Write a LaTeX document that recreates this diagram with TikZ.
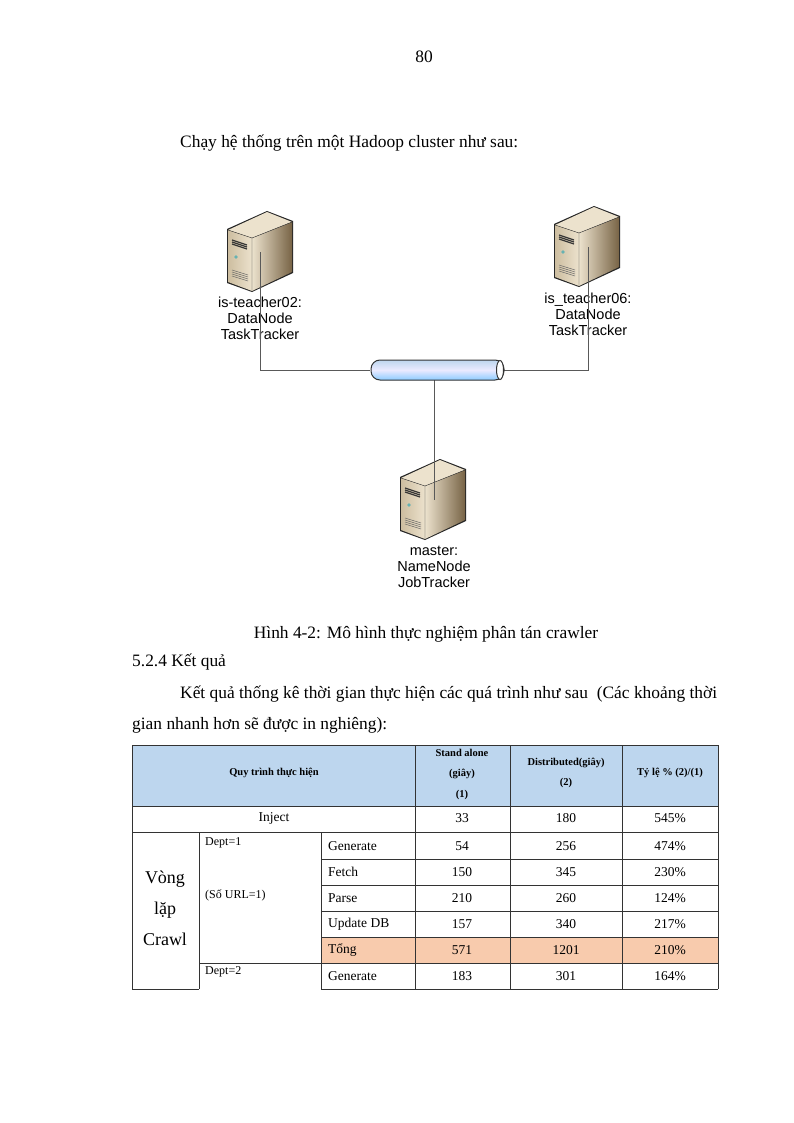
\documentclass[tikz,border=0pt]{standalone}
\usepackage{fontspec}
\setmainfont{Liberation Serif}
\newfontfamily\arialf{Liberation Sans}
\definecolor{hdblue}{RGB}{189,214,238}
\definecolor{orng}{RGB}{248,203,173}
\definecolor{beigeL}{RGB}{236,226,205}
\definecolor{beigeM}{RGB}{205,190,160}
\definecolor{beigeD}{RGB}{120,100,70}
\begin{document}
\begin{tikzpicture}[x=1pt,y=-1pt,
  body/.style={font=\fontsize{17.4}{20}\selectfont,inner sep=0pt},
  lab/.style={font=\arialf\fontsize{14.5}{16}\selectfont,align=center,inner sep=0pt},
  cell/.style={font=\fontsize{13.5}{15}\selectfont,inner sep=0pt},
  hd/.style={font=\bfseries\fontsize{10.5}{12}\selectfont,inner sep=0pt},
  small/.style={font=\fontsize{12}{13}\selectfont,inner sep=0pt,anchor=west},
  tl/.style={line width=0.6pt,black!80},
  link/.style={line width=0.8pt,black!65},
  server/.pic={
    \fill[black!85] (-1,17)--(39,-1)--(65,9)--(65,61)--(24,80)--(-1,71)--cycle;
    \fill[beigeL] (0,18)--(39,0)--(64,10)--(24,26)--cycle;
    \shade[left color=beigeM,right color=beigeL] (0,18)--(24,26)--(24,79)--(0,70)--cycle;
    \shade[left color=beigeL,right color=beigeD] (24,26)--(64,10)--(64,60)--(24,79)--cycle;
    \draw[black!80,line width=0.4pt] (0,18)--(24,26)--(64,10) (24,26)--(24,79);
    \foreach \i in {0,2,4}{\draw[black!80,line width=1.2pt] (4,28+\i)--(19,33+\i);}
    \fill[teal!60] (8,45) circle (1.8);
    \foreach \i in {0,2,4,6}{\draw[black!60,line width=0.5pt] (4,58+\i)--(20,63+\i);}
  }]
\useasboundingbox (0,0) rectangle (794,1123);
\fill[white] (0,0) rectangle (794,1123);
\node[body] (pg) at (424,57) {80};
\node[body,anchor=west] (intro) at (180,143) {Chạy hệ thống trên một Hadoop cluster như sau:};
% network
\pic at (228,212) {server};
\pic at (555,207) {server};
\pic at (401,460) {server};
\coordinate (s1) at (260,252);
\coordinate (s2) at (588,247);
\coordinate (s3) at (434,500);
\coordinate (b3) at (434,380);
\node[lab] (l1) at (260,318) {is-teacher02:\\DataNode\\TaskTracker};
\node[lab] (l2) at (588,314) {is\_teacher06:\\DataNode\\TaskTracker};
\node[lab] (l3) at (434,567) {master:\\NameNode\\JobTracker};
\node[inner sep=0pt,minimum width=134pt,minimum height=20pt] (bus) at (437,370) {};
\draw[link] (s1)--(260,370)--(bus.west);
\draw[link] (s2)--(588,370)--(bus.east);
\draw[link] (b3)--(s3);
\shade[top color=hdblue,bottom color=blue!45!cyan!45!white,middle color=blue!8!white,draw=black!80,line width=1pt,rounded corners=9pt] (371,360) rectangle (504,380);
\draw[black!80,line width=1pt,fill=white] (500,370) ellipse (3.5 and 9.5);
\node[body] (cap) at (426,634) {Hình 4-2: Mô hình thực nghiệm phân tán crawler};
\node[body,anchor=west] (sec) at (132,662) {5.2.4 Kết quả};
\node[body,anchor=west] (p1) at (180,694) {Kết quả thống kê thời gian thực hiện các quá trình như sau \ (Các khoảng thời};
\node[body,anchor=west] (p2) at (132,725) {gian nhanh hơn sẽ được in nghiêng):};
% table
\fill[hdblue] (132,745) rectangle (718,806);
\fill[orng] (321,937) rectangle (718,963);
\draw[tl] (132,745)--(718,745) (132,806)--(718,806) (132,832)--(718,832);
\foreach \y in {859,885,911,937,963}{\draw[tl] (321,\y)--(718,\y);}
\draw[tl] (199,963)--(321,963);
\draw[tl] (132,989)--(199,989) (321,989)--(718,989);
\draw[tl] (132,745)--(132,989) (718,745)--(718,989);
\foreach \x in {415,510,622}{\draw[tl] (\x,745)--(\x,989);}
\draw[tl] (199,832)--(199,989) (321,832)--(321,989);
\node[hd] (h1) at (274,773) {Quy trình thực hiện};
\node[hd] (h2a) at (462,753) {Stand alone};
\node[hd] (h2b) at (462,774) {(giây)};
\node[hd] (h2c) at (462,795) {(1)};
\node[hd] (h3a) at (566,763) {Distributed(giây)};
\node[hd] (h3b) at (566,783) {(2)};
\node[hd] (h4) at (670,773) {Tỷ lệ \% (2)/(1)};
\node[cell] (inj) at (274,818) {Inject};
\node[cell] (i1) at (462,818) {33};
\node[cell] (i2) at (566,818) {180};
\node[cell] (i3) at (670,818) {545\%};
\foreach \n/\t/\a/\b/\c/\y in {g/Generate/54/256/474\%/846, f/Fetch/150/345/230\%/872, p/Parse/210/260/124\%/898, u/Update DB/157/340/217\%/924, t/Tổng/571/1201/210\%/950, gg/Generate/183/301/164\%/976}{
  \node[cell,anchor=west] (\n0) at (328,\y) {\t};
  \node[cell] (\n1) at (462,\y) {\a};
  \node[cell] (\n2) at (566,\y) {\b};
  \node[cell] (\n3) at (670,\y) {\c};
}
\node[small] (d1) at (205,843) {Dept=1};
\node[small] (d2) at (205,895) {(Số URL=1)};
\node[small] (d3) at (205,972) {Dept=2};
\node[font=\fontsize{18}{31}\selectfont,align=center,inner sep=0pt] (vl) at (165,908) {Vòng\\lặp\\Crawl};
\end{tikzpicture}
\end{document}
